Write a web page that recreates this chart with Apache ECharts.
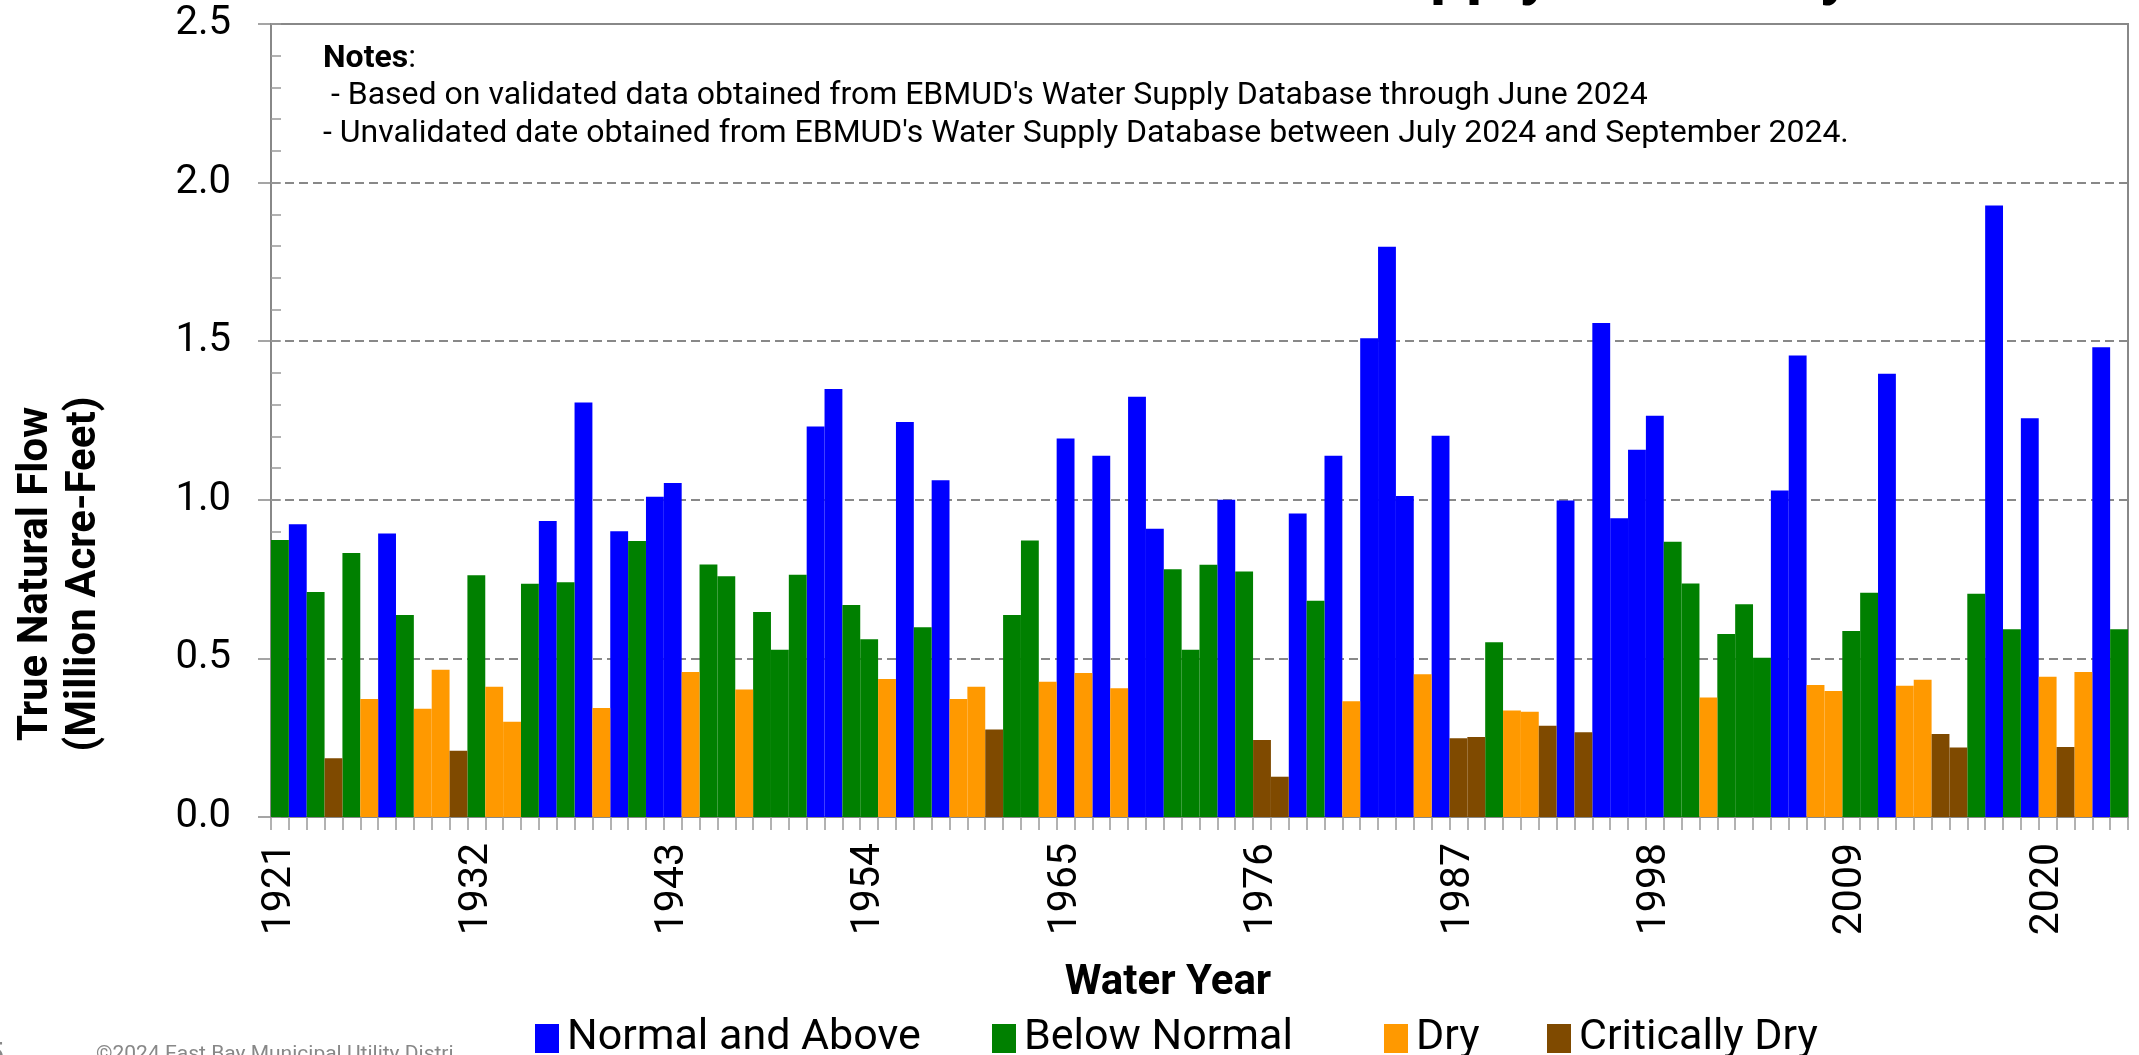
<!DOCTYPE html>
<html>
<head>
<meta charset="utf-8">
<script src="https://cdn.jsdelivr.net/npm/echarts@6/dist/echarts.min.js"></script>
<style>
html,body{margin:0;padding:0;background:#fff;}
#chart{width:2139px;height:1055px;}
</style>
</head>
<body>
<div id="chart"></div>
<script>
// ---- data ----
const firstYear = 1921, lastYear = 2024;
const years = [];
for (let y = firstYear; y <= lastYear; y++) years.push(String(y));

// True natural flow (million acre-feet), 1921..2024
const flow = [
  0.873,0.923,0.709,0.185,0.832,0.372,0.894,0.637,0.341,0.464, // 1921-1930
  0.209,0.762,0.411,0.300,0.735,0.933,0.740,1.307,0.344,0.901, // 1931-1940
  0.870,1.010,1.053,0.457,0.796,0.759,0.402,0.646,0.527,0.764, // 1941-1950
  1.231,1.349,0.668,0.560,0.435,1.245,0.598,1.062,0.372,0.411, // 1951-1960
  0.276,0.637,0.872,0.426,1.193,0.454,1.139,0.406,1.325,0.909, // 1961-1970
  0.781,0.527,0.795,1.000,0.774,0.243,0.127,0.957,0.682,1.139, // 1971-1980
  0.365,1.509,1.798,1.012,0.450,1.202,0.248,0.252,0.551,0.336, // 1981-1990
  0.332,0.288,0.998,0.267,1.557,0.942,1.158,1.265,0.868,0.736, // 1991-2000
  0.377,0.577,0.671,0.502,1.029,1.455,0.416,0.397,0.586,0.707, // 2001-2010
  1.397,0.414,0.433,0.262,0.219,0.704,1.928,0.592,1.257,0.442, // 2011-2020
  0.221,0.457,1.481,0.592                                      // 2021-2024
];
// Year type: N = Normal and Above, B = Below Normal, D = Dry, C = Critically Dry
const yearType = [
  'B','N','B','C','B','D','N','B','D','D',
  'C','B','D','D','B','N','B','N','D','N',
  'B','N','N','D','B','B','D','B','B','B',
  'N','N','B','B','D','N','B','N','D','D',
  'C','B','B','D','N','D','N','D','N','N',
  'B','B','B','N','B','C','C','N','B','N',
  'D','N','N','N','D','N','C','C','B','D',
  'D','C','N','C','N','N','N','N','B','B',
  'D','B','B','B','N','N','D','D','B','B',
  'N','D','D','C','C','B','N','B','N','D',
  'C','D','N','B'
];
const typeCodes  = ['N','B','D','C'];
const typeNames  = ['Normal and Above','Below Normal','Dry','Critically Dry'];
const typeColors = ['#0000FF','#008000','#FF9900','#7F4A00'];
const yTicks = [0, 0.5, 1.0, 1.5, 2.0, 2.5];

// ---- chart ----
const chart = echarts.init(document.getElementById('chart'), null, {renderer:'canvas'});
const FONT = 'Roboto, "Noto Sans", sans-serif';
const gridL = 271, gridR = 11, gridT = 24, gridB = 238;

const series = typeCodes.map((code, i) => ({
  name: typeNames[i],
  type: 'bar',
  stack: 'flow',
  barWidth: '100%',
  barCategoryGap: '0%',
  itemStyle: { color: typeColors[i] },
  emphasis: { disabled: true },
  data: flow.map((v, k) => yearType[k] === code ? v : '-')
}));

const legendLefts = [530, 987, 1379, 1542];
const legends = typeNames.map((n, i) => ({
  data: [n],
  left: legendLefts[i],
  top: 1012,
  orient: 'horizontal',
  icon: 'rect',
  itemWidth: 24,
  itemHeight: 29,
  selectedMode: false,
  textStyle: { fontSize: 43, color: '#000', fontFamily: FONT, padding: [0,0,0,3], lineHeight: 43 }
}));

chart.setOption({
  animation: false,
  backgroundColor: '#fff',
  grid: { left: gridL, right: gridR, top: gridT, bottom: gridB, show: true, borderColor: '#888', borderWidth: 2, backgroundColor: 'transparent' },
  legend: legends,
  xAxis: {
    type: 'category',
    data: years,
    boundaryGap: true,
    axisLine: { lineStyle: { color: '#888', width: 2 } },
    axisTick: { show: true, interval: 0, length: 13, lineStyle: { color: '#999', width: 1.5 } },
    axisLabel: { interval: 10, rotate: 90, fontSize: 41, color: '#000', fontFamily: FONT, margin: 26 },
    splitLine: { show: false }
  },
  yAxis: [
    {
      type: 'value', min: 0, max: 2.5, interval: 0.5,
      axisLine: { show: true, lineStyle: { color: '#888', width: 2 } },
      axisTick: { show: true, length: 13, lineStyle: { color: '#888', width: 1.5 } },
      axisLabel: { fontSize: 40, color: '#000', fontFamily: FONT, margin: 40,
        formatter: v => yTicks.indexOf(v) >= 0 ? v.toFixed(1) : '' },
      splitLine: { show: true, lineStyle: { color: '#888', width: 2, type: [9, 5] } }
    },
    {
      type: 'value', min: 0, max: 2.5, interval: 0.1, position: 'left',
      axisLine: { show: false },
      axisTick: { show: true, inside: true, length: 10, lineStyle: { color: '#999', width: 1.5 } },
      axisLabel: { show: false },
      splitLine: { show: false }
    }
  ],
  series: series,
  graphic: [
    { type: 'text', x: 1170, y: -24, silent: true,
      style: { text: 'Water Supply Reliability', font: 'bold 64px ' + FONT, fill: '#000', verticalAlign: 'middle' } },
    { type: 'text', x: 323, y: 59, silent: true,
      style: { text: '{b|Notes}:', font: '32px ' + FONT, fill: '#000', verticalAlign: 'middle',
        rich: { b: { font: 'bold 32px ' + FONT, fill: '#000' } } } },
    { type: 'text', x: 323, y: 96, silent: true,
      style: { text: " - Based on validated data obtained from EBMUD's Water Supply Database through June 2024", font: '32px ' + FONT, fill: '#000', verticalAlign: 'middle' } },
    { type: 'text', x: 323, y: 134, silent: true,
      style: { text: "- Unvalidated date obtained from EBMUD's Water Supply Database between July 2024 and September 2024.", font: '32px ' + FONT, fill: '#000', verticalAlign: 'middle' } },
    { type: 'text', x: 1168, y: 983, silent: true,
      style: { text: 'Water Year', font: 'bold 42px ' + FONT, fill: '#000', align: 'center', verticalAlign: 'middle' } },
    { type: 'text', x: 60, y: 574, rotation: Math.PI / 2, silent: true,
      style: { text: 'True Natural Flow\n(Million Acre-Feet)', font: 'bold 42px ' + FONT, lineHeight: 48, fill: '#000', align: 'center', verticalAlign: 'middle' } },
    { type: 'text', x: 96, y: 1044, silent: true,
      style: { text: '\u00A92024 East Bay Municipal Utility Distri', font: '21px ' + FONT, fill: '#888', verticalAlign: 'top' } },
    { type: 'text', x: -13, y: 1040, silent: true,
      style: { text: '5', font: '30px ' + FONT, fill: '#888', verticalAlign: 'top' } }
  ]
});
</script>
</body>
</html>
